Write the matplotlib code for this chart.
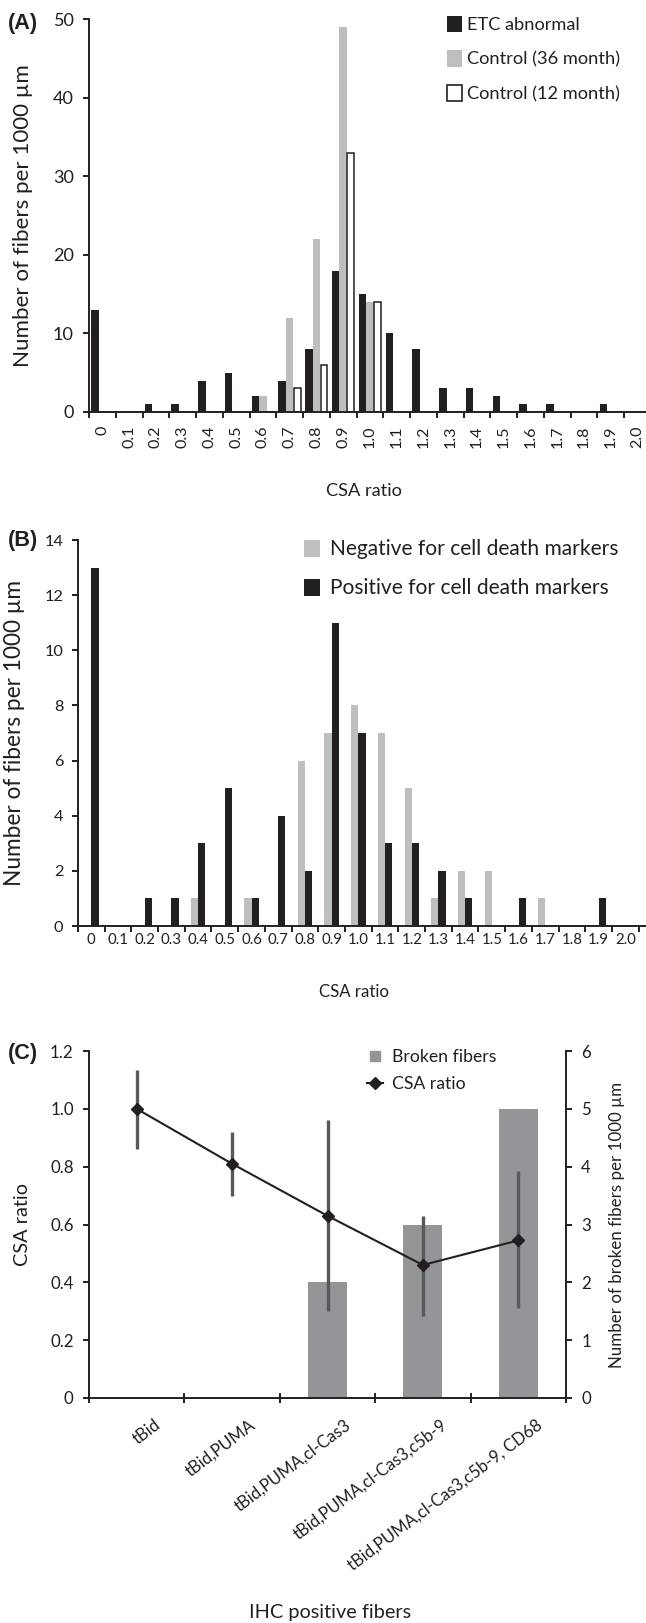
import numpy as np
import matplotlib
matplotlib.use("Agg")
import matplotlib.pyplot as plt
from matplotlib.patches import Patch
from matplotlib.lines import Line2D
from matplotlib.font_manager import FontProperties
from matplotlib.textpath import TextToPath
import matplotlib.transforms as mtransforms

plt.rcParams['font.family'] = ['Lato', 'DejaVu Sans']

# ---- data ----
csa_bins = ["0", "0.1", "0.2", "0.3", "0.4", "0.5", "0.6", "0.7", "0.8", "0.9", "1.0",
            "1.1", "1.2", "1.3", "1.4", "1.5", "1.6", "1.7", "1.8", "1.9", "2.0"]

# panel A
etc_abnormal = [13, 0, 1, 1, 4, 5, 2, 4, 8, 18, 15, 10, 8, 3, 3, 2, 1, 1, 0, 1, 0]
control_36m = [0, 0, 0, 0, 0, 0, 2, 12, 22, 49, 14, 0, 0, 0, 0, 0, 0, 0, 0, 0, 0]
control_12m = [0, 0, 0, 0, 0, 0, 0, 3, 6, 33, 14, 0, 0, 0, 0, 0, 0, 0, 0, 0, 0]

# panel B
negative_cd = [0, 0, 0, 0, 1, 0, 1, 0, 6, 7, 8, 7, 5, 1, 2, 2, 0, 1, 0, 0, 0]
positive_cd = [13, 0, 1, 1, 3, 5, 1, 4, 2, 11, 7, 3, 3, 2, 1, 0, 1, 0, 0, 1, 0]

# panel C
ihc_groups = ["tBid", "tBid,PUMA", "tBid,PUMA,cl-Cas3", "tBid,PUMA,cl-Cas3,c5b-9",
              "tBid,PUMA,cl-Cas3,c5b-9, CD68"]
broken_fibers = [0, 0, 2, 3, 5]
csa_mean = [1.0, 0.81, 0.63, 0.46, 0.545]
csa_low = [0.86, 0.70, 0.30, 0.285, 0.31]
csa_high = [1.135, 0.92, 0.96, 0.63, 0.785]

dark = '#231f20'
light = '#bcbec0'
mid = '#939598'
errc = '#58595b'

W, H = 646, 1623
DPI = 100
fig = plt.figure(figsize=(W / DPI, H / DPI), dpi=DPI)
ttp = TextToPath()


def fit(text, width_px, family=None, weight='normal'):
    # font size (pt) that gives the text the ink width measured on the original
    fp = FontProperties(family=family or plt.rcParams['font.family'], size=10, weight=weight)
    w, h, d = ttp.get_text_width_height_descent(text, fp, ismath=False)
    return 10 * (width_px * 72 / DPI) / w


def line_h(size):
    fp = FontProperties(family=plt.rcParams['font.family'], size=size)
    w, h, d = ttp.get_text_width_height_descent('lp', fp, ismath=False)
    return h * DPI / 72


def px(size):
    return size * DPI / 72


def rect(l, t, r, b):
    return [l / W, 1 - b / H, (r - l) / W, (b - t) / H]


def style(ax, tick_size, spines=('left', 'bottom'), pad=7):
    for s in ['top', 'right', 'left', 'bottom']:
        ax.spines[s].set_visible(s in spines)
        ax.spines[s].set_linewidth(1.4)
        ax.spines[s].set_color(dark)
    ax.tick_params(which='major', direction='out', length=4, width=1.4, color=dark,
                   labelsize=tick_size, labelcolor=dark, pad=pad)
    ax.tick_params(which='minor', length=0, labelcolor=dark)


def category_ticks(ax, n, labels, **kw):
    ax.set_xticks(np.arange(-0.5, n, 1))
    ax.set_xticklabels([])
    ax.set_xticks(np.arange(n), minor=True)
    ax.set_xticklabels(labels, minor=True, **kw)


def legend(ax, handles, labels, size, left, row_center, pitch, hl_px, pad_px,
           hh=0.7, box=None):
    # frameless legend placed by the pixel position of its first row
    l, t, r, b = box
    f = px(size)
    row = max(line_h(size), hh * f)
    top = row_center - row / 2
    ax.legend(handles, labels, loc='upper left',
              bbox_to_anchor=((left - l) / (r - l), (b - top) / (b - t)),
              frameon=False, fontsize=size, handlelength=hl_px / f,
              handleheight=hh, handletextpad=pad_px / f,
              labelspacing=(pitch - row) / f, borderpad=0, borderaxespad=0,
              labelcolor=dark)


def letter(t, y):
    fig.text(8 / W, 1 - y / H, t, fontweight='bold',
             fontsize=fit('(A)', 30, 'Liberation Sans', 'bold'),
             family='Liberation Sans', va='center', color=dark)


x = np.arange(len(csa_bins))

# ---- (A) ----
boxA = (89, 19, 651, 412)
axA = fig.add_axes(rect(*boxA))
w = 0.28
axA.bar(x - w, etc_abnormal, w, color=dark)
axA.bar(x, control_36m, w, color=light)
axA.bar(x + w, control_12m, w * 0.92, color='white', edgecolor=dark, linewidth=1.1)
axA.set_xlim(-0.5, 20.5)
axA.set_ylim(0, 50)
axA.set_yticks(range(0, 51, 10))
style(axA, fit('50', 21))
category_ticks(axA, len(csa_bins), csa_bins, rotation=90)
axA.tick_params(axis='x', which='minor', pad=10, labelsize=fit('0.1', 22.5))
axA.set_ylabel('Number of fibers per 1000 µm', color=dark,
               fontsize=fit('Number of fibers per 1000 µm', 303))
axA.yaxis.set_label_coords((33 - 89) / 562, 0.5)
sA = fit('CSA ratio', 76)
axA.set_xlabel('CSA ratio', fontsize=sA, color=dark)
axA.xaxis.set_label_coords(0.49, (412 - (491 - 0.5 * line_h(sA))) / 393)
sLA = fit('Control (36 month)', 153)
hA = [Patch(fc=dark), Patch(fc=light), Patch(fc='white', ec=dark, lw=1.2)]
legend(axA, hA, ['ETC abnormal', 'Control (36 month)', 'Control (12 month)'],
       sLA, 447, 25, 35, 15, 5, hh=18 / px(sLA), box=boxA)
letter('(A)', 24)

# ---- (B) ----
boxB = (78, 540, 646, 926)
axB = fig.add_axes(rect(*boxB))
wb = 0.27
axB.bar(x - wb / 2, negative_cd, wb, color=light)
axB.bar(x + wb / 2, positive_cd, wb, color=dark)
axB.set_xlim(-0.5, -0.5 + 568 / 26.7)
axB.set_ylim(0, 14)
axB.set_yticks(range(0, 15, 2))
style(axB, fit('14', 19), pad=6.5)
category_ticks(axB, len(csa_bins), csa_bins)
axB.tick_params(axis='x', which='minor', pad=5, labelsize=fit('0.1', 21))
axB.set_ylabel('Number of fibers per 1000 µm', color=dark,
               fontsize=fit('Number of fibers per 1000 µm', 305))
axB.yaxis.set_label_coords((25 - 78) / 568, 0.5)
sB = fit('CSA ratio', 70)
axB.set_xlabel('CSA ratio', fontsize=sB, color=dark)
axB.xaxis.set_label_coords((354 - 78) / 568, (926 - (992 - 0.5 * line_h(sB))) / 386)
sLB = fit('Negative for cell death markers', 288)
hB = [Patch(fc=light), Patch(fc=dark)]
legend(axB, hB, ['Negative for cell death markers', 'Positive for cell death markers'],
       sLB, 304, 549, 38, 16, 10, hh=18 / px(sLB), box=boxB)
letter('(B)', 541)

# ---- (C) ----
xc = np.arange(len(ihc_groups))
boxC = (89, 1051, 566, 1398)
axC = fig.add_axes(rect(*boxC))
axR = axC.twinx()
axR.bar(xc, broken_fibers, 0.41, color=mid)
axR.set_ylim(0, 6)
axR.set_yticks(range(0, 7))
style(axR, fit('1.2', 23.5), spines=('left', 'bottom', 'right'))
sR = fit('Number of broken fibers per 1000 µm', 285)
axR.set_ylabel('Number of broken fibers per 1000 µm', fontsize=sR, color=dark)
axR.yaxis.set_label_coords((609 - 89) / 477, 0.5)

yerr = [np.subtract(csa_mean, csa_low), np.subtract(csa_high, csa_mean)]
axC.errorbar(xc, csa_mean, yerr=yerr, fmt='none', ecolor=errc, elinewidth=2.4,
             capsize=0, zorder=2)
axC.plot(xc, csa_mean, color=dark, lw=1.5, marker='D', ms=6.5, zorder=3)
axC.set_zorder(axR.get_zorder() + 1)
axC.patch.set_visible(False)
axC.set_xlim(-0.5, 4.5)
axC.set_ylim(0, 1.2)
axC.set_yticks(np.arange(0, 1.21, 0.2))
axC.set_yticklabels(['0', '0.2', '0.4', '0.6', '0.8', '1.0', '1.2'])
style(axC, fit('1.2', 23.5))
axC.spines['left'].set_visible(False)
axC.spines['bottom'].set_visible(False)
category_ticks(axC, len(ihc_groups), ihc_groups, rotation=37, ha='right',
               rotation_mode='anchor')
axC.tick_params(axis='x', which='major', direction='inout', length=7)
axC.tick_params(axis='x', which='minor', pad=13.5,
                labelsize=fit('tBid,PUMA,cl-Cas3,c5b-9, CD68', 240))
off = mtransforms.ScaledTranslation(17 / DPI, 0, fig.dpi_scale_trans)
for lab in axC.get_xticklabels(minor=True):
    lab.set_transform(lab.get_transform() + off)
axC.set_ylabel('CSA ratio', fontsize=fit('CSA ratio', 83), color=dark)
axC.yaxis.set_label_coords((31 - 89) / 477, 0.5)
sX = fit('IHC positive fibers', 162)
axC.set_xlabel('IHC positive fibers', fontsize=sX, color=dark)
axC.xaxis.set_label_coords((330 - 89) / 477, (1398 - (1619 - 0.75 * px(sX))) / 347)
sLC = fit('Broken fibers', 104)
hC = [Line2D([], [], ls='none', marker='s', ms=7, color=mid),
      Line2D([], [], color=dark, lw=1.5, marker='D', ms=6.5)]
legend(axC, hC, ['Broken fibers', 'CSA ratio'], sLC, 367, 1057, 27, 16, 9, box=boxC)
letter('(C)', 1053)

fig.savefig('out.png', dpi=DPI)
